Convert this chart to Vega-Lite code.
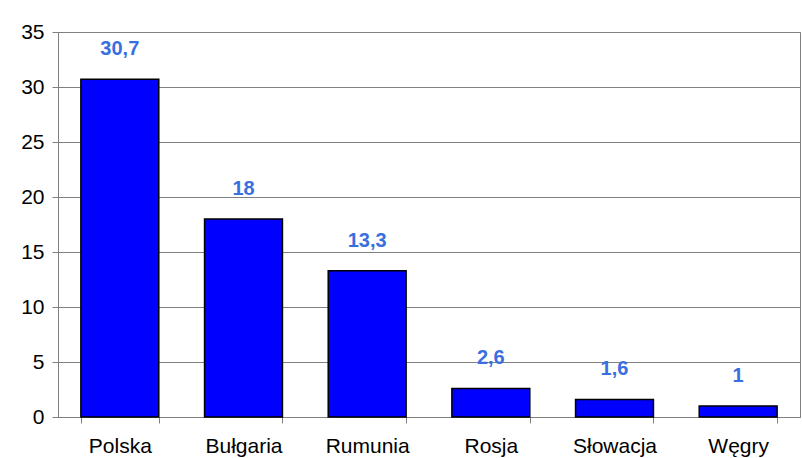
{
  "$schema": "https://vega.github.io/schema/vega-lite/v6.json",
  "autosize": {"type": "none"},
  "padding": {"left": 58, "top": 32, "right": 2, "bottom": 41},
  "width": 742,
  "height": 385,
  "background": "white",
  "data": {"values": [
    {"kraj": "Polska", "wartosc": 30.7, "etykieta": "30,7"},
    {"kraj": "Bułgaria", "wartosc": 18, "etykieta": "18"},
    {"kraj": "Rumunia", "wartosc": 13.3, "etykieta": "13,3"},
    {"kraj": "Rosja", "wartosc": 2.6, "etykieta": "2,6"},
    {"kraj": "Słowacja", "wartosc": 1.6, "etykieta": "1,6"},
    {"kraj": "Węgry", "wartosc": 1, "etykieta": "1"}
  ]},
  "encoding": {
    "x": {"field": "kraj", "type": "nominal", "sort": null,
      "scale": {"paddingInner": 0.37, "paddingOuter": 0.185},
      "axis": {"title": null, "labelAngle": 0, "labelFont": "Liberation Sans", "labelFontSize": 21, "labelColor": "#000000", "labelPadding": 12, "tickBand": "extent", "tickSize": 6, "tickColor": "#808080", "domainColor": "#808080", "grid": false}},
    "y": {"field": "wartosc", "type": "quantitative",
      "scale": {"domain": [0, 35], "nice": false},
      "axis": {"title": null, "values": [0, 5, 10, 15, 20, 25, 30, 35], "labelFont": "Liberation Sans", "labelFontSize": 21, "labelColor": "#000000", "labelPadding": 8, "tickSize": 6, "tickColor": "#808080", "domainColor": "#808080", "grid": true, "gridColor": "#808080", "gridWidth": 1, "gridOpacity": 1}}
  },
  "layer": [
    {"mark": {"type": "bar", "color": "#0000FF", "stroke": "#000000", "strokeWidth": 1.5}},
    {"mark": {"type": "text", "font": "Liberation Sans", "fontWeight": "bold", "fontSize": 20, "color": "#3A6FE0", "baseline": "middle", "dy": -30},
      "encoding": {"text": {"field": "etykieta"}}}
  ],
  "config": {"view": {"stroke": "#808080", "strokeWidth": 1}}
}
